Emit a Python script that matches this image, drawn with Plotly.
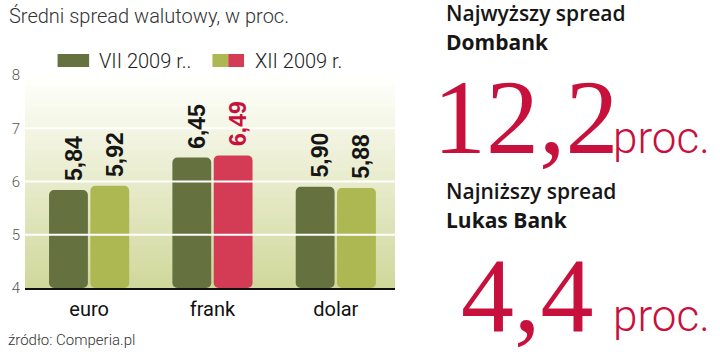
import plotly.graph_objects as go

# ---------------- data ----------------
categories = ["euro", "frank", "dolar"]
series_names = ["VII 2009 r..", "XII 2009 r."]
jul_2009 = [5.84, 6.45, 5.90]
dec_2009 = [5.92, 6.49, 5.88]
y_ticks = [4, 5, 6, 7, 8]

title_text = "Średni spread walutowy, w proc."
source_text = "źródło: Comperia.pl"
high_label = "Najwyższy spread"
high_bank = "Dombank"
high_value = "12,2"
low_label = "Najniższy spread"
low_bank = "Lukas Bank"
low_value = "4,4"
unit_text = "proc."

# ---------------- styling ----------------
W, H = 720, 357
L, R, T, B = 20, 395, 75, 288  # plot area in pixels

DARK = "#65713f"
LIGHT = "#adb852"
RED_BAR = "#d43c55"
RED = "#c8103c"
INK = "#161616"
BARGAP = 0.33
BARGROUPGAP = 0.06


def px(x):
    return (x - L) / (R - L)


def py(y):
    return (B - y) / (B - T)


def fmt(v):
    return f"{v:.2f}".replace(".", ",")


x_pos = list(range(len(categories)))
dec_colors = [RED_BAR if c == "frank" else LIGHT for c in categories]
dec_text_colors = [RED if c == "frank" else INK for c in categories]

fig = go.Figure()
fig.add_trace(go.Bar(
    x=x_pos, y=[v - 4 for v in jul_2009], base=4, name=series_names[0],
    marker=dict(color=DARK, line=dict(width=0), cornerradius=5),
    showlegend=False,
))
fig.add_trace(go.Bar(
    x=x_pos, y=[v - 4 for v in dec_2009], base=4, name=series_names[1],
    marker=dict(color=dec_colors, line=dict(width=0), cornerradius=5),
    showlegend=False,
))

shapes = []
# background gradient (bands)
n = 40
c0 = (208, 216, 156)
c1 = (255, 255, 252)
for i in range(n):
    f = i / (n - 1)
    col = tuple(round(c0[k] + (c1[k] - c0[k]) * f) for k in range(3))
    y0 = 4 + 4 * i / n
    y1 = 4 + 4 * (i + 1) / n + 0.02
    shapes.append(dict(type="rect", xref="paper", yref="y", x0=0, x1=1,
                       y0=y0, y1=min(y1, 8), line=dict(width=0),
                       fillcolor=f"rgb{col}", layer="below"))
# white grid lines above bars
for v in y_ticks[1:-1]:
    shapes.append(dict(type="line", xref="paper", yref="y", x0=0, x1=1,
                       y0=v, y1=v, line=dict(color="white", width=2),
                       layer="above"))
# legend swatches
shapes.append(dict(type="rect", xref="paper", yref="paper",
                   x0=px(53), x1=px(85), y0=py(67), y1=py(54),
                   fillcolor=DARK, line=dict(width=0)))
shapes.append(dict(type="rect", xref="paper", yref="paper",
                   x0=px(210), x1=px(226), y0=py(67), y1=py(54),
                   fillcolor=LIGHT, line=dict(width=0)))
shapes.append(dict(type="rect", xref="paper", yref="paper",
                   x0=px(226), x1=px(242), y0=py(67), y1=py(54),
                   fillcolor=RED_BAR, line=dict(width=0)))

ann = []

# value labels above bars (drawn above the white grid lines)
slot = (1 - BARGAP) / 2
for s, (vals, colors) in enumerate([(jul_2009, [INK] * 3),
                                    (dec_2009, dec_text_colors)]):
    off = (s - 0.5) * slot
    for i, v in enumerate(vals):
        ann.append(dict(text=fmt(v), xref="x", yref="y", x=x_pos[i] + off,
                        y=v, xanchor="center", yanchor="bottom",
                        textangle=-90, showarrow=False, xshift=5, yshift=7,
                        font=dict(family="Liberation Sans, Arial, sans-serif",
                                  size=23, color=colors[i], weight="bold")))


def add_text(text, x, y, size, family, color, weight="normal",
             xanchor="left", yanchor="middle"):
    ann.append(dict(text=text, xref="paper", yref="paper", x=px(x), y=py(y),
                    xanchor=xanchor, yanchor=yanchor, showarrow=False,
                    font=dict(size=size, family=family, color=color,
                              weight=weight)))


add_text(title_text, 2, 16, 20, "Roboto", "#333333", 300)
add_text(series_names[0], 93, 61, 20, "Roboto", "#222222", 300)
add_text(series_names[1], 251, 61, 20, "Roboto", "#222222", 300)
add_text(source_text, 1, 340, 15, "Roboto", "#333333", 300)

add_text(high_label, 445, 13, 21, "Open Sans", INK, 600)
add_text(high_bank, 445, 42, 21, "Open Sans", INK, 700)
add_text(low_label, 445, 191, 21, "Open Sans", INK, 600)
add_text(low_bank, 445, 220, 21, "Open Sans", INK, 700)

big = 106
add_text(high_value, 431, 153 + 0.216 * big + 2, big, "Liberation Serif", RED,
         yanchor="bottom")
add_text(low_value, 460, 331 + 0.216 * big + 2, big, "Liberation Serif", RED,
         yanchor="bottom")
add_text(unit_text, 614, 153 + 0.244 * 44 + 2, 44, "Roboto", RED, 300,
         yanchor="bottom")
add_text(unit_text, 614, 331 + 0.244 * 44 + 2, 44, "Roboto", RED, 300,
         yanchor="bottom")

fig.update_layout(
    width=W, height=H,
    margin=dict(l=L, r=W - R, t=T, b=H - B, pad=0),
    paper_bgcolor="white", plot_bgcolor="white",
    barmode="group", bargap=BARGAP, bargroupgap=BARGROUPGAP,
    shapes=shapes, annotations=ann, showlegend=False,
    font=dict(family="Roboto"),
)
fig.update_xaxes(
    range=[-0.52, 2.48], tickvals=x_pos, ticktext=categories,
    tickfont=dict(size=20, color="#111111", family="Roboto"),
    showgrid=False, zeroline=False, showline=True, linecolor="#111111",
    linewidth=2, ticks="", ticklabelstandoff=2, layer="above traces",
)
fig.update_yaxes(
    range=[4, 8], tickvals=y_ticks, showgrid=False, zeroline=False,
    tickfont=dict(size=15, color="#555555", family="Roboto", weight=300),
    ticks="", showline=False, ticklabelstandoff=4,
)

fig.write_html("out.html")
